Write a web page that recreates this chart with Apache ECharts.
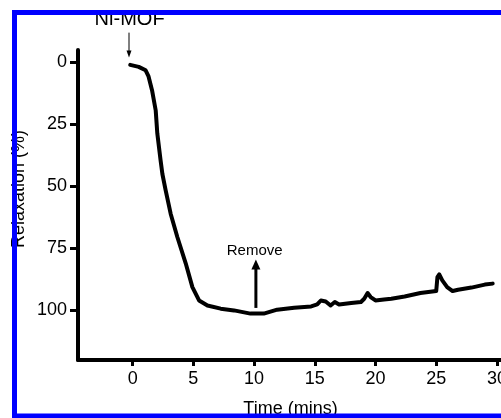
<!DOCTYPE html>
<html>
<head>
<meta charset="utf-8">
<script src="https://cdn.jsdelivr.net/npm/echarts@6/dist/echarts.min.js"></script>
<style>
html,body{margin:0;padding:0;background:#fff;}
#chart{width:501px;height:418px;}
</style>
</head>
<body>
<div id="chart"></div>
<script>
// Data
const times = [-0.2, 0.5, 1.07, 1.3, 1.6, 1.9, 2.03, 2.3, 2.45, 2.72, 3.13, 3.68, 4.37, 4.92, 5.47, 6.16, 7.25, 8.35, 9.7, 10.8, 11.9, 13.3, 14.7, 15.2, 15.5, 15.9, 16.3, 16.65, 17.0, 18.0, 18.8, 19.07, 19.35, 19.6, 20.0, 20.7, 21.3, 22.4, 23.7, 25.0, 25.1, 25.25, 25.5, 25.9, 26.35, 26.8, 27.9, 29.0, 29.65];
const relaxation = [1, 1.8, 3.2, 5.5, 11.3, 19.4, 28.6, 39.5, 45, 51.6, 61, 70.4, 81, 90.6, 96, 98, 99.3, 100, 101.3, 101.3, 99.7, 98.9, 98.4, 97.6, 96, 96.4, 98, 96.6, 97.6, 97, 96.6, 95.3, 93, 94.6, 96, 95.6, 95.3, 94.4, 93, 92.2, 86.6, 85.5, 87.9, 90.6, 92.2, 91.7, 90.8, 89.6, 89.2];
const xTicks = [0, 5, 10, 15, 20, 25, 30];
const yTicks = [0, 25, 50, 75, 100];
const xTitle = 'Time (mins)';
const yTitle = 'Relaxation (%)';
const addLabel = 'Ni-MOF';
const removeLabel = 'Remove';
const addTime = 0;
const removeTime = 10.15;

const FONT = 'Liberation Sans, Arial, sans-serif';
const chart = echarts.init(document.getElementById('chart'), null, {renderer: 'canvas'});

const points = times.map((t, i) => [t, relaxation[i]]);

chart.setOption({
  animation: false,
  backgroundColor: '#ffffff',
  grid: {left: 78, top: 50, width: 425, height: 310, containLabel: false, outerBoundsMode: 'none'},
  xAxis: {
    type: 'value', min: -4.5, max: 30.5, position: 'bottom',
    name: xTitle, nameLocation: 'middle', nameGap: 40,
    nameTextStyle: {color: '#000', fontSize: 18, fontFamily: FONT},
    axisLine: {show: true, onZero: false, lineStyle: {color: '#000', width: 4}},
    axisTick: {show: true, customValues: xTicks, length: 6, lineStyle: {color: '#000', width: 3}},
    axisLabel: {customValues: xTicks, margin: 10, color: '#000', fontSize: 18, fontFamily: FONT, hideOverlap: false},
    splitLine: {show: false}
  },
  yAxis: {
    type: 'value', min: -5, max: 120, inverse: true, position: 'left',
    axisLine: {show: true, onZero: false, lineStyle: {color: '#000', width: 4}},
    axisTick: {show: true, customValues: yTicks, length: 8, lineStyle: {color: '#000', width: 3}},
    axisLabel: {customValues: yTicks, margin: 11, color: '#000', fontSize: 18, fontFamily: FONT},
    splitLine: {show: false}
  },
  series: [{
    type: 'line', data: points, showSymbol: false, symbol: 'none',
    smooth: false, lineStyle: {color: '#000', width: 4, join: 'round', cap: 'round'},
    clip: false
  }]
});

// Annotations positioned via the chart's own scales
const p = (x, y) => chart.convertToPixel({gridIndex: 0}, [x, y]);
const niTop = p(addTime - 0.3, -12);
const niTip = p(addTime - 0.3, -2);
const niText = p(addTime - 0.25, -17.5);
const rmBottom = p(removeTime, 99);
const rmTip = p(removeTime, 79.5);
const rmText = p(removeTime - 0.1, 76);

chart.setOption({
  graphic: [
    {type: 'line', shape: {x1: niTop[0], y1: niTop[1], x2: niTip[0], y2: niTip[1] - 5}, style: {stroke: '#000', lineWidth: 1}},
    {type: 'polygon', shape: {points: [[niTip[0] - 2.5, niTip[1] - 7], [niTip[0] + 2.5, niTip[1] - 7], [niTip[0], niTip[1]]]}, style: {fill: '#000'}},
    {type: 'text', x: niText[0], y: niText[1], style: {text: addLabel, fill: '#000', font: '20px ' + FONT, align: 'center', verticalAlign: 'middle'}},
    {type: 'line', shape: {x1: rmBottom[0], y1: rmBottom[1], x2: rmTip[0], y2: rmTip[1] + 8}, style: {stroke: '#000', lineWidth: 3}},
    {type: 'polygon', shape: {points: [[rmTip[0] - 4.5, rmTip[1] + 10], [rmTip[0] + 4.5, rmTip[1] + 10], [rmTip[0], rmTip[1]]]}, style: {fill: '#000'}},
    {type: 'text', x: rmText[0], y: rmText[1], style: {text: removeLabel, fill: '#000', font: '15px ' + FONT, align: 'center', verticalAlign: 'middle'}},
    {type: 'text', x: 19, y: 189, rotation: Math.PI / 2, style: {text: yTitle, fill: '#000', font: '18px ' + FONT, align: 'center', verticalAlign: 'middle'}},
    {type: 'rect', z: 100, shape: {x: 14.5, y: 12.5, width: 600, height: 403.5}, style: {fill: 'none', stroke: '#0000ff', lineWidth: 5}}
  ]
});
</script>
</body>
</html>
